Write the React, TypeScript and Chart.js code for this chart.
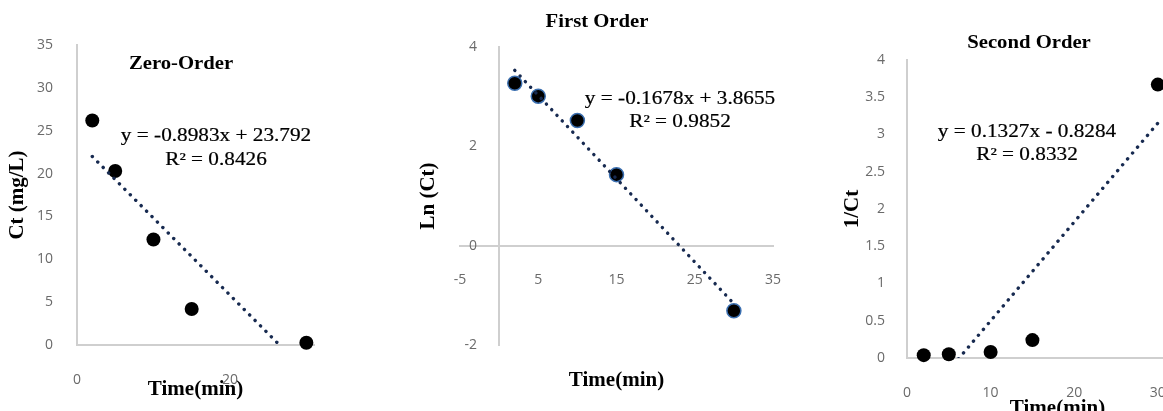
import React, { useEffect, useRef } from "react";
import { Chart, registerables } from "chart.js";

Chart.register(...registerables);

// ---------- data ----------
const timeMin = [2, 5, 10, 15, 30];
const ctValues = [26.2, 20.3, 12.3, 4.2, 0.27];
const lnCtValues = [3.27, 3.01, 2.52, 1.43, -1.31];
const invCtValues = [0.038, 0.05, 0.08, 0.24, 3.67];

const zeroSlope = -0.8983;
const zeroIntercept = 23.792;
const firstSlope = -0.1678;
const firstIntercept = 3.8655;
const secondSlope = 0.1327;
const secondIntercept = -0.8284;

const zeroTitle = "Zero-Order";
const firstTitle = "First Order";
const secondTitle = "Second Order";
const zeroEquation = ["y = -0.8983x + 23.792", "R² = 0.8426"];
const firstEquation = ["y = -0.1678x + 3.8655", "R² = 0.9852"];
const secondEquation = ["y = 0.1327x - 0.8284", "R² = 0.8332"];
const xAxisTitle = "Time(min)";
const zeroYTitle = "Ct (mg/L)";
const firstYTitle = "Ln (Ct)";
const secondYTitle = "1/Ct";

const zeroXTicks = [0, 20];
const zeroYTicks = [0, 5, 10, 15, 20, 25, 30, 35];
const firstXTicks = [-5, 5, 15, 25, 35];
const firstYTicks = [-2, 0, 2, 4];
const secondXTicks = [0, 10, 20, 30];
const secondYTicks = [0, 0.5, 1, 1.5, 2, 2.5, 3, 3.5, 4];

// ---------- styles ----------
const AXIS = "#cfcfcf";
const TREND = "#172a50";
const TICK_FONT = { family: "'Open Sans', sans-serif", size: 14 };
const TICK_COLOR = "#6a6a6a";
const TITLE_FONT = { family: "'Liberation Serif', 'Times New Roman', serif", size: 21, weight: "bold" as const };
const HEAD_FONT = "bold 18px 'Liberation Serif', 'Times New Roman', serif";
const EQ_FONT = "18px 'Liberation Serif', 'Times New Roman', serif";
const GRID = { display: false, drawTicks: false };
const tickFmt = (v: any) => String(v);

const trend = (m: number, b: number) =>
  [timeMin[0], timeMin[timeMin.length - 1]].map((x) => ({ x, y: m * x + b }));
const pts = (ys: number[]) => timeMin.map((x, i) => ({ x, y: ys[i] }));
const fixTicks = (vals: number[]) => (s: any) => {
  s.ticks = vals.map((v) => ({ value: v }));
};

const textPlugin = {
  id: "chartTexts",
  afterDraw(chart: any, _a: any, opts: any) {
    const ctx = chart.ctx;
    for (const it of opts.items || []) {
      ctx.save();
      ctx.font = it.font;
      ctx.fillStyle = "#000";
      ctx.strokeStyle = "#000";
      ctx.textAlign = "center";
      ctx.textBaseline = "middle";
      ctx.translate(it.x, it.y);
      ctx.scale(it.sx || 1, 1);
      ctx.fillText(it.text, 0, 0);
      if (it.stroke) {
        ctx.lineWidth = it.stroke;
        ctx.strokeText(it.text, 0, 0);
      }
      ctx.restore();
    }
  },
};

const trendSet = (m: number, b: number) => ({
  type: "line" as const,
  data: trend(m, b),
  borderColor: TREND,
  borderWidth: 3.4,
  borderDash: [0.1, 7.6],
  borderCapStyle: "round" as const,
  pointRadius: 0,
  fill: false,
  clip: 0,
});

const pointSet = (ys: number[], border: string, bw: number) => ({
  type: "scatter" as const,
  data: pts(ys),
  pointRadius: 7,
  pointBackgroundColor: "#000",
  pointBorderColor: border,
  pointBorderWidth: bw,
  clip: false as const,
});

const baseOptions = (padding: any, items: any[]) => ({
  responsive: false,
  maintainAspectRatio: false,
  animation: false as const,
  devicePixelRatio: 1,
  layout: { padding },
  plugins: {
    legend: { display: false },
    tooltip: { enabled: false },
    chartTexts: { items },
  },
});

const eqItems = (lines: string[], x: number, y1: number, y2: number) => [
  { text: lines[0], x, y: y1, font: EQ_FONT, sx: 1.18, stroke: 0.2 },
  { text: lines[1], x, y: y2, font: EQ_FONT, sx: 1.18, stroke: 0.2 },
];

const buildZero = () => ({
  type: "scatter" as const,
  data: {
    datasets: [trendSet(zeroSlope, zeroIntercept), pointSet(ctValues, "#000", 0)],
  },
  options: {
    ...baseOptions({ left: 0, top: 45, right: 16, bottom: 0 }, [
      { text: zeroTitle, x: 181, y: 64, font: HEAD_FONT, sx: 1.15 },
      ...eqItems(zeroEquation, 216, 136, 160),
    ]),
    scales: {
      x: {
        type: "linear", axis: "x", position: "bottom", min: 0, max: 31,
        afterBuildTicks: fixTicks(zeroXTicks),
        afterFit: (s: any) => { s.height = 66; },
        grid: GRID,
        border: { color: AXIS, width: 2 },
        ticks: { padding: 26.6, font: TICK_FONT, color: TICK_COLOR, callback: tickFmt },
        title: { display: true, text: xAxisTitle, font: TITLE_FONT, color: "#000", padding: { top: 0, bottom: 9 } },
      },
      y: {
        type: "linear", axis: "y", position: "left", min: 0, max: 35,
        afterBuildTicks: fixTicks(zeroYTicks),
        afterFit: (s: any) => { s.width = 77; },
        grid: GRID,
        border: { color: AXIS, width: 2 },
        ticks: { padding: 24, font: TICK_FONT, color: TICK_COLOR, callback: tickFmt },
        title: { display: true, text: zeroYTitle, font: TITLE_FONT, color: "#000", padding: { top: 4.5, bottom: 0 } },
      },
    },
  },
  plugins: [textPlugin],
});

const buildFirst = () => ({
  type: "scatter" as const,
  data: {
    datasets: [trendSet(firstSlope, firstIntercept), pointSet(lnCtValues, "#3b6fb0", 1.5)],
  },
  options: {
    ...baseOptions({ left: 0, top: 47, right: 37, bottom: 66 }, [
      { text: firstTitle, x: 207, y: 22, font: HEAD_FONT, sx: 1.15 },
      ...eqItems(firstEquation, 290, 99, 122),
    ]),
    scales: {
      x: {
        type: "linear", axis: "x", position: { y: 0 }, min: -5, max: 35,
        afterBuildTicks: fixTicks(firstXTicks),
        afterFit: (s: any) => { s.height = 150; },
        grid: GRID,
        border: { color: AXIS, width: 2 },
        ticks: { padding: 25.6, font: TICK_FONT, color: TICK_COLOR, callback: tickFmt },
        title: { display: true, text: xAxisTitle, font: TITLE_FONT, color: "#000", padding: { top: 0, bottom: 2 } },
      },
      y: {
        type: "linear", axis: "y", position: { x: 0 }, min: -2, max: 4,
        afterBuildTicks: fixTicks(firstYTicks),
        grid: GRID,
        border: { color: AXIS, width: 2 },
        ticks: { display: false },
      },
      yLeft: {
        type: "linear", axis: "y", position: "left", min: -2, max: 4,
        afterBuildTicks: fixTicks(firstYTicks),
        afterFit: (s: any) => { s.width = 70; },
        grid: GRID,
        border: { display: false },
        ticks: { mirror: true, crossAlign: "far", padding: 4.5, font: TICK_FONT, color: TICK_COLOR, callback: tickFmt },
        title: { display: true, text: firstYTitle, font: TITLE_FONT, color: "#000", padding: { top: 26, bottom: 0 } },
      },
    },
  },
  plugins: [textPlugin],
});

const buildSecond = () => ({
  type: "scatter" as const,
  data: {
    datasets: [trendSet(secondSlope, secondIntercept), pointSet(invCtValues, "#000", 0)],
  },
  options: {
    ...baseOptions({ left: 0, top: 60, right: 22, bottom: 0 }, [
      { text: secondTitle, x: 239, y: 43, font: HEAD_FONT, sx: 1.15 },
      ...eqItems(secondEquation, 237, 132, 155),
    ]),
    scales: {
      x: {
        type: "linear", axis: "x", position: "bottom", min: 0, max: 36,
        afterBuildTicks: fixTicks(secondXTicks),
        afterFit: (s: any) => { s.height = 72; },
        grid: GRID,
        border: { color: AXIS, width: 2 },
        ticks: { padding: 26.6, font: TICK_FONT, color: TICK_COLOR, callback: tickFmt },
        title: { display: true, text: xAxisTitle, font: TITLE_FONT, color: "#000", padding: { top: 0, bottom: 9 } },
      },
      y: {
        type: "linear", axis: "y", position: "left", min: 0, max: 4,
        afterBuildTicks: fixTicks(secondYTicks),
        afterFit: (s: any) => { s.width = 117; },
        grid: GRID,
        border: { color: AXIS, width: 2 },
        ticks: { padding: 22, font: TICK_FONT, color: TICK_COLOR, callback: tickFmt },
        title: { display: true, text: secondYTitle, font: TITLE_FONT, color: "#000", padding: { top: 50, bottom: 0 } },
      },
    },
  },
  plugins: [textPlugin],
});

function ChartPanel({ build, left, width, height }: { build: () => any; left: number; width: number; height: number }) {
  const ref = useRef<HTMLCanvasElement | null>(null);
  useEffect(() => {
    const chart = new Chart(ref.current as HTMLCanvasElement, build());
    return () => chart.destroy();
  }, []);
  return (
    <canvas
      ref={ref}
      width={width}
      height={height}
      style={{ position: "absolute", left, top: 0, width, height, display: "block" }}
    />
  );
}

export default function App() {
  return (
    <div
      style={{
        position: "fixed",
        left: 0,
        top: 0,
        width: 1163,
        height: 411,
        overflow: "hidden",
        background: "#fff",
      }}
    >
      <ChartPanel build={buildZero} left={0} width={330} height={411} />
      <ChartPanel build={buildFirst} left={390} width={420} height={411} />
      <ChartPanel build={buildSecond} left={790} width={440} height={430} />
    </div>
  );
}
